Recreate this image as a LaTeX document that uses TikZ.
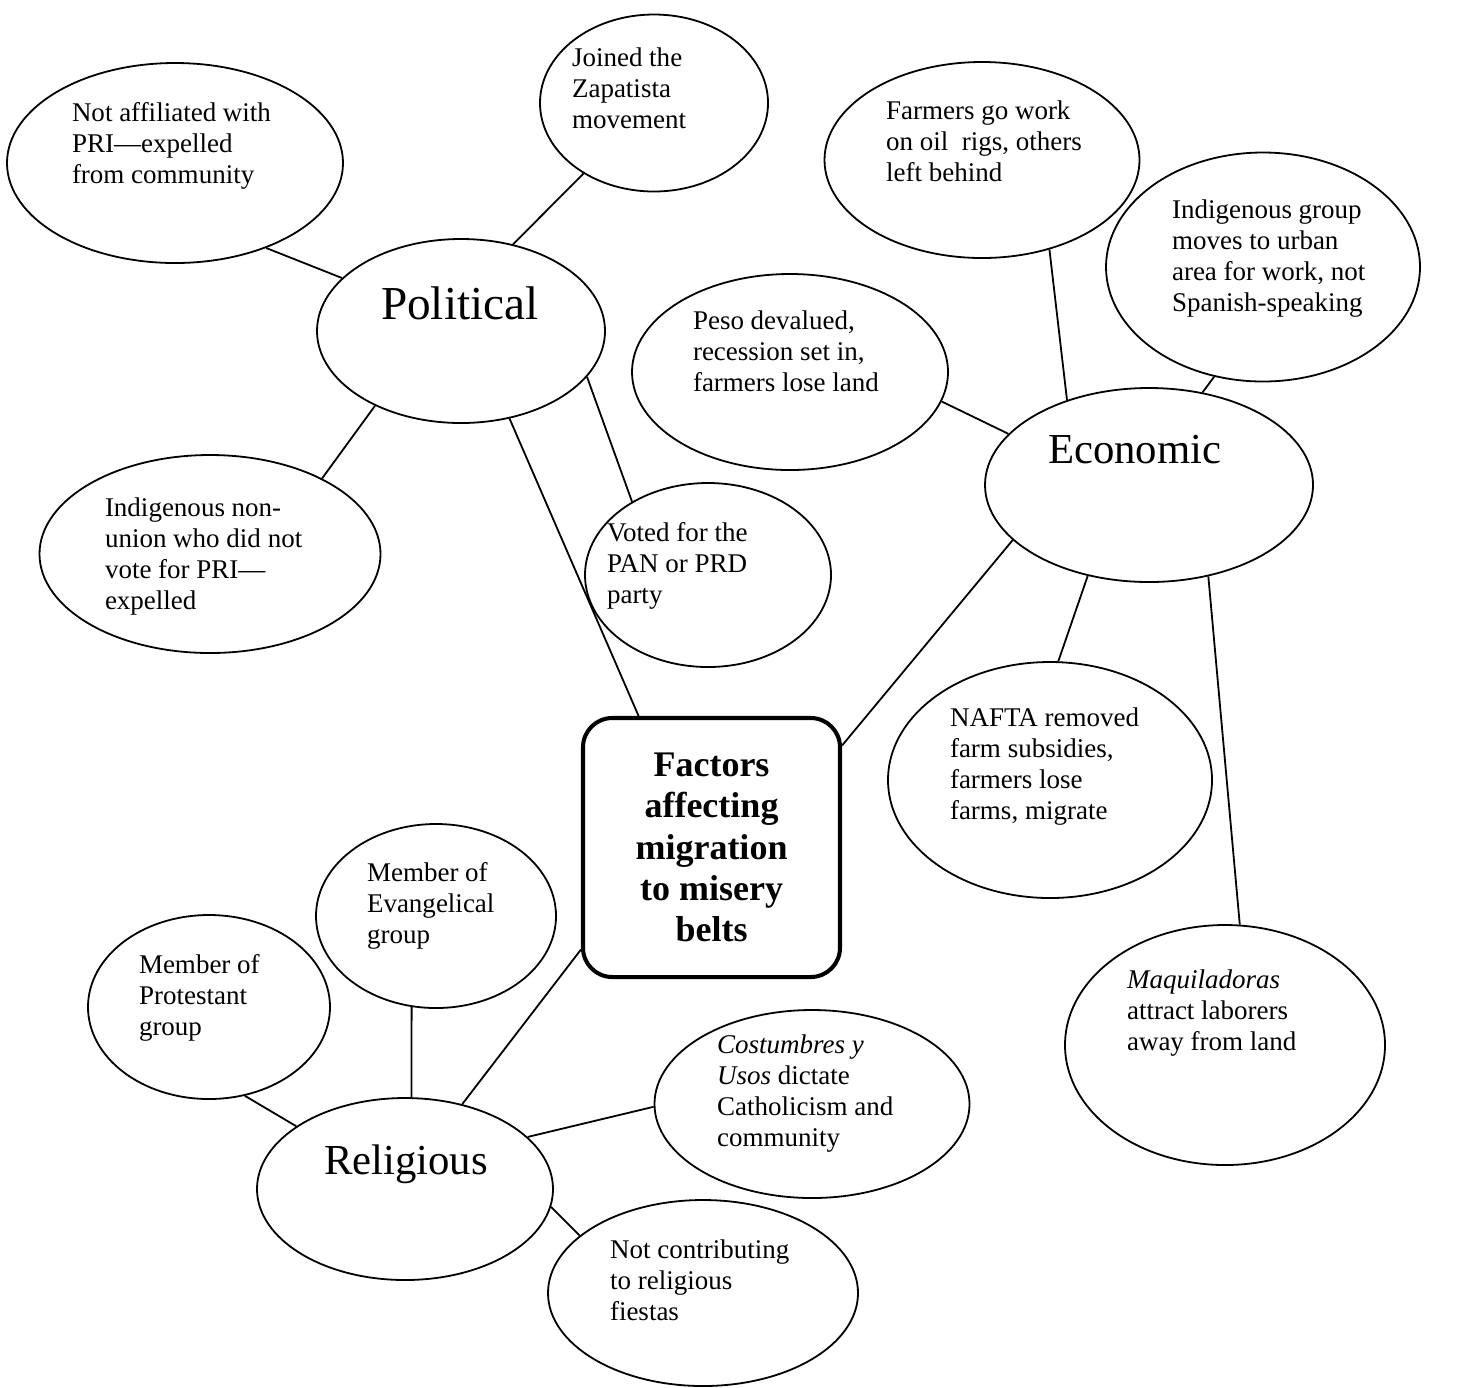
\documentclass[tikz,border=0pt]{standalone}
\usepackage{fontspec}
\setmainfont{Liberation Serif}
\usetikzlibrary{shapes.geometric}
\newlength{\px}
\setlength{\px}{0.4444pt}
\newcommand{\bubtext}[3]{\raisebox{#2\px}[0pt][0pt]{\makebox[0pt][l]{\hspace*{#1\px}\parbox[t]{320\px}{\raggedright #3}}}}

\begin{document}
\begin{tikzpicture}[
      x=0.4444pt, y=-0.4444pt,
      dims/.style 2 args={minimum width=#1*\px, minimum height=#2*\px},
      bubble/.style={draw, ellipse, line width=0.8pt, inner sep=0pt,
                     font=\fontsize{12}{13.8}\selectfont},
      topic/.style={bubble, font=\fontsize{19}{23}\selectfont},
      core/.style={draw, rounded corners=13pt, line width=1.8pt, inner sep=0pt,
                   align=center, font=\fontsize{16}{18.4}\selectfont\bfseries,
                   minimum width=257*\px, minimum height=259*\px},
      link/.style={line width=0.8pt}
    ]
    \useasboundingbox (0,0) rectangle (1459,1387);
    \node[core] (core) at (711.5,847.5) {Factors\\affecting\\migration\\to misery\\belts};
    \node[topic, dims={288}{184}, font=\fontsize{21}{25}\selectfont] (political) at (461,331) {\bubtext{-80}{12}{Political}};
    \node[topic, dims={328}{194}] (economic) at (1149,485) {\bubtext{-101}{22}{Economic}};
    \node[topic, dims={296}{182}] (religious) at (405,1189) {\bubtext{-81}{15}{Religious}};
    \node[bubble, dims={228}{177}] (zapatista) at (654,103) {\bubtext{-82}{37}{Joined the\\Zapatista\\movement}};
    \node[bubble, dims={336}{200}] (notpri) at (175,163) {\bubtext{-103}{42}{Not affiliated with\\PRI---expelled\\from community}};
    \node[bubble, dims={341}{198}] (nonunion) at (210,554) {\bubtext{-105}{38}{Indigenous non-\\union who did not\\vote for PRI---\\expelled}};
    \node[bubble, dims={246}{184}] (voted) at (708,575) {\bubtext{-101}{34}{Voted for the\\PAN or PRD\\party}};
    \node[bubble, dims={315}{196}] (oilrigs) at (982,160) {\bubtext{-96}{41}{Farmers go work\\on oil\ \ rigs, others\\left behind}};
    \node[bubble, dims={314}{229}] (urban) at (1263,267) {\bubtext{-91}{49}{Indigenous group\\moves to urban\\area for work, not\\Spanish-speaking}};
    \node[bubble, dims={316}{196}] (peso) at (790,372) {\bubtext{-97}{43}{Peso devalued,\\recession set in,\\farmers lose land}};
    \node[bubble, dims={324}{236}] (nafta) at (1050,780) {\bubtext{-100}{54}{NAFTA removed\\farm subsidies,\\farmers lose\\farms, migrate}};
    \node[bubble, dims={320}{240}] (maquila) at (1225,1045) {\bubtext{-98}{57}{\textit{Maquiladoras}\\attract laborers\\away from land}};
    \node[bubble, dims={240}{184}] (evangelical) at (436,916) {\bubtext{-69}{35}{Member of\\Evangelical\\group}};
    \node[bubble, dims={242}{184}] (protestant) at (209,1007) {\bubtext{-70}{34}{Member of\\Protestant\\group}};
    \node[bubble, dims={315}{188}] (costumbres) at (812,1104) {\bubtext{-95}{51}{\textit{Costumbres y}\\\textit{Usos} dictate\\Catholicism and\\community}};
    \node[bubble, dims={310}{186}] (fiestas) at (703,1293) {\bubtext{-93}{35}{Not contributing\\to religious\\fiestas}};

    \draw[link] (political.59) -- (zapatista.225);
    \draw[link] (political.156) -- (notpri.317);
    \draw[link] (political.221) -- (nonunion.34);
    \draw[link] (political.340) -- (voted.136);
    \draw[link] (political.299) -- (core.119);
    \draw[link] (economic.134) -- (oilrigs.307);
    \draw[link] (economic.60) -- (urban.246);
    \draw[link] (economic.160) -- (peso.349);
    \draw[link] (economic.236) -- (nafta.86);
    \draw[link] (economic.303) -- (maquila.83);
    \draw[link] (economic.202) -- (core.38);
    \draw[link] (religious.86) -- (evangelical.255);
    \draw[link] (religious.150) -- (protestant.292);
    \draw[link] (religious.56) -- (core.218);
    \draw[link] (religious.23) -- (costumbres.181);
    \draw[link] (religious.353) -- (fiestas.155);
  \end{tikzpicture}
\end{document}
